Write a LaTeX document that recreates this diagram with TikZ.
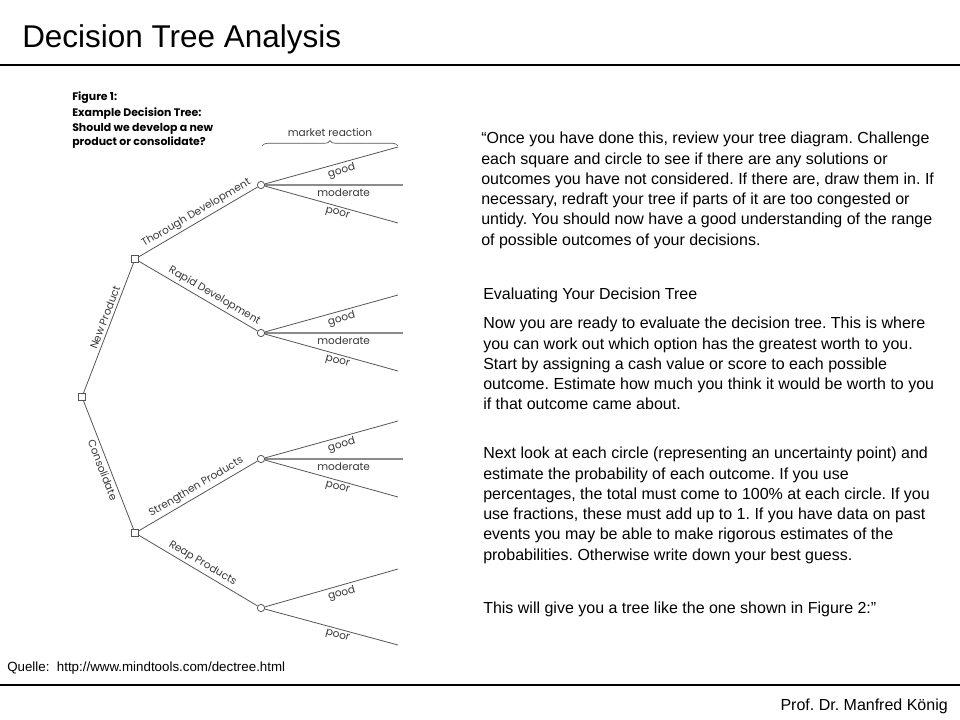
\documentclass[tikz,border=0pt]{standalone}
\usepackage{fontspec}
\setmainfont{Liberation Sans}
\newfontfamily\figfont{Poppins}
\usetikzlibrary{decorations.pathreplacing}
\definecolor{treegray}{RGB}{85,85,85}
\definecolor{modgray} {RGB}{140,140,140}
\definecolor{labgray} {RGB}{55,55,55}
\frenchspacing

\tikzset{
  decision/.style={rectangle, draw=treegray, fill=white, line width=0.6pt,
                   minimum size=5.5pt, inner sep=0pt},
  chance/.style={circle, draw=treegray, fill=white, line width=0.6pt,
                 minimum size=5.5pt, inner sep=0pt},
  branch/.style={draw=treegray, line width=0.6pt},
  modbranch/.style={draw=modgray, line width=0.9pt},
  blabel/.style={font=\figfont\fontsize{7.9}{8}\selectfont, text=labgray,
                 sloped, inner sep=2pt},
  para/.style={anchor=north west, align=left, inner sep=0pt,
               font=\fontsize{12}{15.2}\selectfont},
}

\begin{document}
\begin{tikzpicture}[x=0.75pt, y=-0.75pt]
  \useasboundingbox (0,0) rectangle (960,720);

  % header and footer
  \node[anchor=base west, inner sep=0pt, font=\fontsize{23.6}{26}\selectfont]
    (title) at (22,48) {Decision Tree Analysis};
  \draw[line width=1pt] (0,65) -- (960,65);
  \draw[line width=1pt] (0,685) -- (960,685);
  \node[anchor=west, inner sep=0pt, font=\fontsize{10}{12}\selectfont]
    (source) at (7,668) {Quelle:\ \ http://www.mindtools.com/dectree.html};
  \node[anchor=east, inner sep=0pt, font=\fontsize{12}{14}\selectfont]
    (author) at (948,706) {Prof. Dr. Manfred König};

  % figure caption
  \node[anchor=north west, align=left, inner sep=0pt,
        font=\figfont\bfseries\fontsize{8.2}{10.9}\selectfont]
    (caption) at (72,91) {Figure 1:\\[1.5pt] Example Decision Tree:\\
                          Should we develop a new\\ product or consolidate?};

  % tree nodes
  \node[decision] (root)       at (82,397)  {};
  \node[decision] (newprod)    at (135,259) {};
  \node[decision] (consol)     at (135,533) {};
  \node[chance]   (thorough)   at (261,185) {};
  \node[chance]   (rapid)      at (261,333) {};
  \node[chance]   (strengthen) at (261,459) {};
  \node[chance]   (reap)       at (261,608) {};

  % decisions
  \draw[branch] (root) -- node[blabel, pos=.56, above]{New Product} (newprod);
  \draw[branch] (root) -- node[blabel, pos=.52, below]{Consolidate} (consol);
  \draw[branch] (newprod) -- node[blabel, pos=.52, above]{Thorough Development} (thorough);
  \draw[branch] (newprod) -- node[blabel, pos=.60, above]{Rapid Development} (rapid);
  \draw[branch] (consol) -- node[blabel, pos=.52, above]{Strengthen Products} (strengthen);
  \draw[branch] (consol) -- node[blabel, pos=.50, above]{Reap Products} (reap);

  % market reaction
  \foreach \c in {thorough, rapid, strengthen}{
    \path (\c) ++(137,-38) coordinate (\c-good)
          (\c) ++(142,0)   coordinate (\c-mod)
          (\c) ++(137,38)  coordinate (\c-poor);
    \draw[branch] (\c) -- node[blabel, pos=.56, below]{good} (\c-good);
    \draw[modbranch] (\c) -- node[blabel, pos=.57, below]{moderate} (\c-mod);
    \draw[branch] (\c) -- node[blabel, pos=.56, below]{poor} (\c-poor);
  }
  \path (reap) ++(137,-39) coordinate (reap-good)
        (reap) ++(137,37)  coordinate (reap-poor);
  \draw[branch] (reap) -- node[blabel, pos=.56, below]{good} (reap-good);
  \draw[branch] (reap) -- node[blabel, pos=.56, below]{poor} (reap-poor);

  \coordinate (brl) at (262,146);
  \coordinate (brr) at (398,146);
  \draw[treegray, line width=0.5pt, decorate,
        decoration={brace, amplitude=4pt}] (brl) -- (brr)
    node[blabel, midway, above=5pt] (reaction) {market reaction};

  % text column
  \node[para] (txtintro) at (481,132) {%
    “Once you have done this, review your tree diagram. Challenge\\
    each square and circle to see if there are any solutions or\\
    outcomes you have not considered. If there are, draw them in. If\\
    necessary, redraft your tree if parts of it are too congested or\\
    untidy. You should now have a good understanding of the range\\
    of possible outcomes of your decisions.};
  \node[para] (txteval) at (483,288) {Evaluating Your Decision Tree};
  \node[para] (txtnow) at (483,317) {%
    Now you are ready to evaluate the decision tree. This is where\\
    you can work out which option has the greatest worth to you.\\
    Start by assigning a cash value or score to each possible\\
    outcome. Estimate how much you think it would be worth to you\\
    if that outcome came about.};
  \node[para] (txtnext) at (483,447) {%
    Next look at each circle (representing an uncertainty point) and\\
    estimate the probability of each outcome. If you use\\
    percentages, the total must come to 100\% at each circle. If you\\
    use fractions, these must add up to 1. If you have data on past\\
    events you may be able to make rigorous estimates of the\\
    probabilities. Otherwise write down your best guess.};
  \node[para] (txtthis) at (483,602)
    {This will give you a tree like the one shown in Figure 2:”};
\end{tikzpicture}
\end{document}
